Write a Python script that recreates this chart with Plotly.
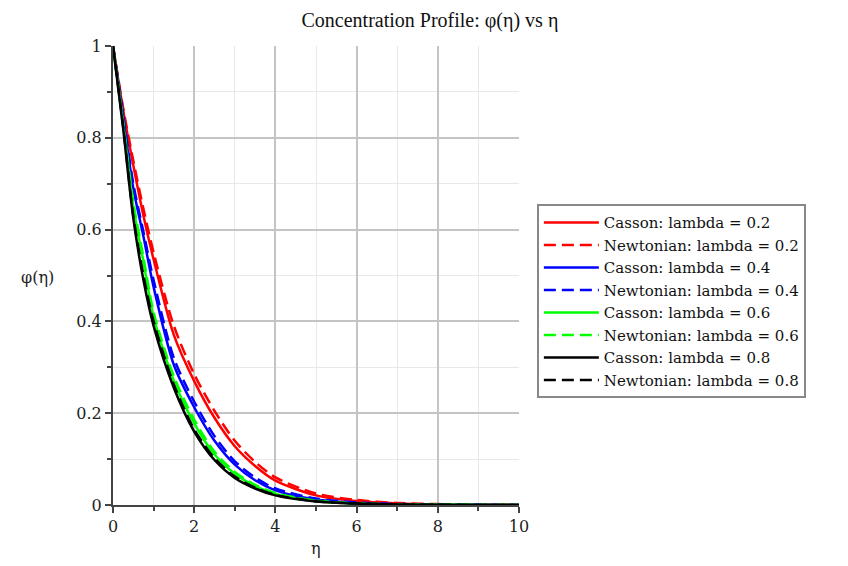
import plotly.graph_objects as go

eta = [0, 0.25, 0.5, 0.75, 1, 1.5, 2, 2.5, 3, 3.5, 4, 5, 6, 7, 8, 9, 10]

casson_02 = [1, 0.86, 0.74, 0.63, 0.535, 0.37, 0.27, 0.19, 0.128, 0.085, 0.053, 0.021, 0.0085, 0.0035, 0.0015, 0.0006, 0.0002]
newton_02 = [1, 0.865, 0.75, 0.645, 0.55, 0.39, 0.285, 0.205, 0.14, 0.094, 0.060, 0.025, 0.011, 0.0045, 0.002, 0.0008, 0.0003]
casson_04 = [1, 0.845, 0.69, 0.585, 0.475, 0.305, 0.213, 0.14, 0.088, 0.054, 0.032, 0.012, 0.0045, 0.0017, 0.0007, 0.0003, 0.0001]
newton_04 = [1, 0.85, 0.70, 0.595, 0.49, 0.32, 0.225, 0.15, 0.095, 0.06, 0.036, 0.014, 0.0055, 0.002, 0.0008, 0.0003, 0.0001]
casson_06 = [1, 0.83, 0.65, 0.53, 0.41, 0.27, 0.178, 0.11, 0.068, 0.041, 0.024, 0.0088, 0.0033, 0.0012, 0.0005, 0.0002, 0.0001]
newton_06 = [1, 0.835, 0.66, 0.54, 0.42, 0.28, 0.186, 0.116, 0.072, 0.044, 0.026, 0.0095, 0.0036, 0.0013, 0.0005, 0.0002, 0.0001]
casson_08 = [1, 0.82, 0.625, 0.49, 0.39, 0.255, 0.16, 0.098, 0.059, 0.036, 0.021, 0.0078, 0.003, 0.0011, 0.0004, 0.0002, 0.0]
newton_08 = [1, 0.825, 0.63, 0.50, 0.40, 0.262, 0.165, 0.102, 0.062, 0.038, 0.022, 0.0082, 0.0032, 0.0012, 0.0005, 0.0002, 0.0]

series = [
    ("Casson: lambda = 0.2", casson_02, "#ff0000", "solid"),
    ("Newtonian: lambda = 0.2", newton_02, "#ff0000", "12px,6px"),
    ("Casson: lambda = 0.4", casson_04, "#0000ff", "solid"),
    ("Newtonian: lambda = 0.4", newton_04, "#0000ff", "12px,6px"),
    ("Casson: lambda = 0.6", casson_06, "#00ff00", "solid"),
    ("Newtonian: lambda = 0.6", newton_06, "#00ff00", "12px,6px"),
    ("Casson: lambda = 0.8", casson_08, "#000000", "solid"),
    ("Newtonian: lambda = 0.8", newton_08, "#000000", "12px,6px"),
]

fig = go.Figure()
for name, ys, col, dash in series:
    fig.add_trace(go.Scatter(
        x=eta, y=ys, name=name, mode="lines",
        line=dict(color=col, width=2.5, dash=dash, shape="spline", smoothing=0.8),
    ))

FAM = "DejaVu Serif, DejaVu Sans, sans-serif"
tickfont = dict(family=FAM, size=16, color="#222222")

fig.update_layout(
    width=848, height=566,
    margin=dict(l=113, r=329, t=46, b=61),
    paper_bgcolor="white", plot_bgcolor="white",
    title=dict(text="Concentration Profile: φ(η) vs η", x=0.507, xanchor="center",
               y=0.964, yanchor="middle",
               font=dict(family="Liberation Serif", size=20, color="#111111")),
    legend=dict(
        x=1.044, xanchor="left", y=0.655, yanchor="top",
        bordercolor="#888888", borderwidth=2, bgcolor="white",
        font=dict(family=FAM, size=15, color="#111111"),
        tracegroupgap=0, itemwidth=55,
    ),
    showlegend=True,
)

fig.update_xaxes(
    range=[0, 10], dtick=2, tick0=0,
    showline=True, linecolor="#444444", linewidth=2,
    ticks="outside", ticklen=6, tickcolor="#444444", tickwidth=1.5,
    showgrid=True, gridcolor="#c4c4c4", gridwidth=1.5,
    zeroline=False, tickfont=tickfont,
    minor=dict(dtick=1, ticks="outside", ticklen=4, tickcolor="#444444",
               showgrid=True, gridcolor="#e8e8e8", gridwidth=1),
)
fig.update_yaxes(
    range=[0, 1], dtick=0.2, tick0=0,
    showline=True, linecolor="#444444", linewidth=2,
    ticks="outside", ticklen=6, tickcolor="#444444", tickwidth=1.5,
    showgrid=True, gridcolor="#c4c4c4", gridwidth=1.5,
    zeroline=False, tickfont=tickfont,
    tickvals=[0, 0.2, 0.4, 0.6, 0.8, 1], ticktext=["0", "0.2", "0.4", "0.6", "0.8", "1"],
    minor=dict(dtick=0.1, ticks="outside", ticklen=4, tickcolor="#444444",
               showgrid=True, gridcolor="#e8e8e8", gridwidth=1),
)

fig.add_annotation(text="φ(η)", xref="paper", yref="paper", x=-0.185, y=0.495,
                   xanchor="center", yanchor="middle", showarrow=False,
                   font=dict(family=FAM, size=16, color="#222222"))
fig.add_annotation(text="η", xref="paper", yref="paper", x=0.5, y=-0.095,
                   xanchor="center", yanchor="middle", showarrow=False,
                   font=dict(family=FAM, size=16, color="#222222"))

fig.write_html("out.html")
